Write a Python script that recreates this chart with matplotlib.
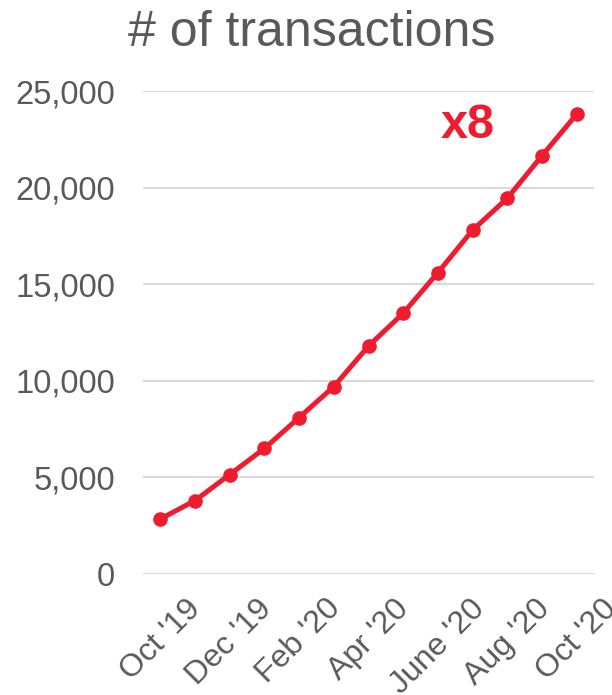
import numpy as np
import matplotlib.pyplot as plt

plt.rcParams['font.family'] = ['Liberation Sans', 'DejaVu Sans']

months = ["Oct '19", "Nov '19", "Dec '19", "Jan '20", "Feb '20", "Mar '20", "Apr '20",
          "May '20", "June '20", "July '20", "Aug '20", "Sep '20", "Oct '20"]
transactions = [2850, 3800, 5150, 6500, 8100, 9700, 11800, 13500, 15600, 17800, 19450, 21650, 23800]
shown_ticks = ["Oct '19", "Dec '19", "Feb '20", "Apr '20", "June '20", "Aug '20", "Oct '20"]

red = '#EE1C2E'
grey = '#595959'

fig = plt.figure(figsize=(6.12, 6.95), dpi=100)
ax = fig.add_axes([0.2337, 0.1741, 0.7369, 0.6949])

x = np.arange(len(months))
ax.plot(x, transactions, color=red, lw=3.6, marker='o', markersize=9.5, zorder=3)

ax.set_xlim(-0.5, len(months) - 0.5)
ax.set_ylim(0, 25000)
ax.set_yticks(range(0, 25001, 5000))
ax.set_yticklabels([f"{v:,}" for v in range(0, 25001, 5000)], fontsize=23.5, color=grey)
ax.yaxis.grid(True, color='#D9D9D9', lw=1.5)
ax.set_axisbelow(True)

idx = [months.index(m) for m in shown_ticks]
ax.set_xticks(idx)
ax.set_xticklabels(shown_ticks, rotation=45, ha='center', va='top', fontsize=23, color=grey)
ax.tick_params(axis='both', length=0)
ax.tick_params(axis='y', pad=20)
ax.tick_params(axis='x', pad=14)
for s in ax.spines.values():
    s.set_visible(False)

ax.text(8.87, 23200, "x8", color=red, fontsize=35, fontweight='bold', ha='center', va='center')
fig.suptitle("# of transactions", fontsize=36, color=grey, x=0.51, y=0.985, va='top')

fig.savefig('out.png', dpi=100)
